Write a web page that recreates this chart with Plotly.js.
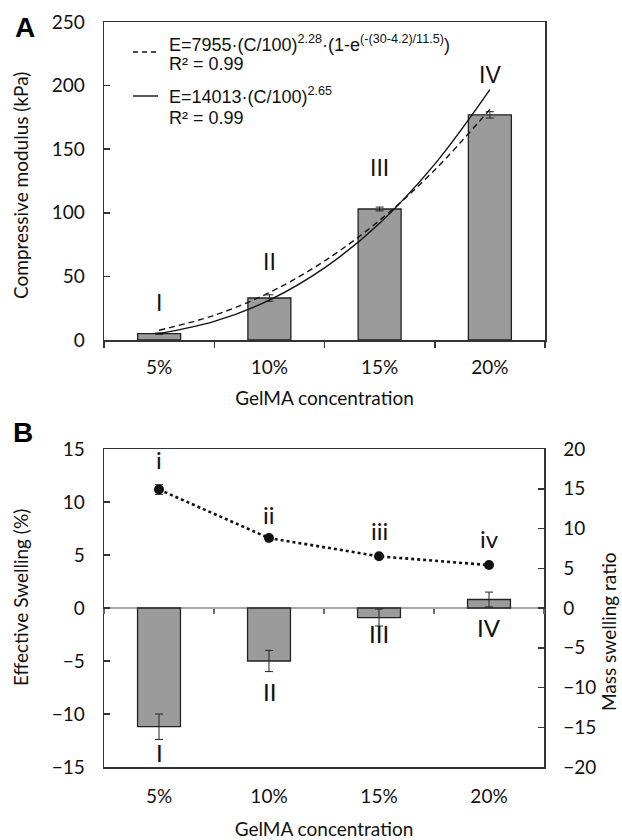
<!DOCTYPE html>
<html><head><meta charset="utf-8">
<script src="https://cdn.plot.ly/plotly-3.0.1.min.js"></script>
<style>html,body{margin:0;padding:0;background:#fff}#chart{width:622px;height:840px}</style>
</head><body><div id="chart"></div>
<script>
// ---- data ----
const categories = ['5%', '10%', '15%', '20%'];
const modulus = [5, 33, 103, 177];            // kPa
const modulusErr = [0.6, 2.5, 1.5, 2.5];
const fitC = [5, 7.5, 10, 12.5, 15, 17.5, 20]; // GelMA concentration (%)
const fitDashed = [7.7, 19.4, 37.3, 62.1, 94.1, 133.7, 181.3];
const fitSolid = [5.0, 14.6, 31.4, 56.7, 91.8, 138.3, 196.9];
const effSwelling = [-11.2, -5.0, -0.9, 0.8];  // %
const effSwellingErr = [1.2, 1.0, 0.8, 0.7];
const massRatio = [14.9, 8.8, 6.5, 5.4];
const massRatioErr = [0.6, 0.3, 0.3, 0.3];
const labelsUpperA = ['I', 'II', 'III', 'IV'];
const labelsLowerB = ['i', 'ii', 'iii', 'iv'];

// ---- layout helpers ----
const W = 622, H = 840;
const px = v => v / W;
const py = v => 1 - v / H;
const domA = {x: [px(104), px(545)], y: [py(340), py(22)]};
const domB = {x: [px(104), px(544)], y: [py(767), py(449)]};
const tickFont = {family: 'Lato, sans-serif', size: 19, color: '#111'};
const titleFont = {family: 'Lato, sans-serif', size: 19, color: '#111'};
const barColor = '#9b9b9b';
const lineCol = '#333';

const traces = [
  {type: 'bar', x: categories, y: modulus, xaxis: 'x', yaxis: 'y',
   marker: {color: barColor, line: {color: '#222', width: 1.3}},
   error_y: {type: 'data', array: modulusErr, color: '#222', thickness: 1, width: 4},
   showlegend: false, hoverinfo: 'skip'},
  {type: 'scatter', mode: 'lines', x: fitC, y: fitDashed, xaxis: 'x3', yaxis: 'y',
   line: {color: '#111', width: 1.4, dash: '6px,4px', shape: 'spline'}, showlegend: false},
  {type: 'scatter', mode: 'lines', x: fitC, y: fitSolid, xaxis: 'x3', yaxis: 'y',
   line: {color: '#111', width: 1.4, shape: 'spline'}, showlegend: false},
  {type: 'bar', x: categories, y: effSwelling, xaxis: 'x2', yaxis: 'y2',
   marker: {color: barColor, line: {color: '#222', width: 1.3}},
   error_y: {type: 'data', array: effSwellingErr, color: '#222', thickness: 1, width: 4},
   showlegend: false},
  {type: 'scatter', mode: 'lines+markers', x: categories, y: massRatio, xaxis: 'x4', yaxis: 'y4',
   line: {color: '#111', width: 2.6, dash: 'dot'},
   marker: {color: '#111', size: 10},
   error_y: {type: 'data', array: massRatioErr, color: '#222', thickness: 1, width: 4},
   showlegend: false}
];

const annotations = [];
function ann(o) { annotations.push(Object.assign({showarrow: false}, o)); }

// panel letters
ann({xref: 'paper', yref: 'paper', x: px(25), y: py(28), text: '<b>A</b>', xanchor: 'center', yanchor: 'middle',
     font: {family: 'Liberation Sans, Arial, sans-serif', size: 28, color: '#000'}});
ann({xref: 'paper', yref: 'paper', x: px(23), y: py(433), text: '<b>B</b>', xanchor: 'center', yanchor: 'middle',
     font: {family: 'Liberation Sans, Arial, sans-serif', size: 28, color: '#000'}});

// axis titles (rotated)
ann({xref: 'paper', yref: 'paper', x: px(20), y: py(186), text: 'Compressive modulus (kPa)', textangle: -90,
     xanchor: 'center', yanchor: 'middle', font: titleFont});
ann({xref: 'paper', yref: 'paper', x: px(20), y: py(598), text: 'Effective Swelling (%)', textangle: -90,
     xanchor: 'center', yanchor: 'middle', font: titleFont});
ann({xref: 'paper', yref: 'paper', x: px(608), y: py(632), text: 'Mass swelling ratio', textangle: -90,
     xanchor: 'center', yanchor: 'middle', borderpad: 0, font: titleFont});

// fit equations (legend)
const eqFont = {family: 'Liberation Sans, Arial, sans-serif', size: 18, color: '#111'};
const eqLines = [
  ['E=7955·(C/100)<sup>2.28</sup>·(1-e<sup>(-(30-4.2)/11.5)</sup>)', 43],
  ['R² = 0.99', 64],
  ['E=14013·(C/100)<sup>2.65</sup>', 95],
  ['R² = 0.99', 118]
];
eqLines.forEach(([t, yy]) => ann({xref: 'paper', yref: 'paper', x: px(167), y: py(yy), text: t,
  xanchor: 'left', yanchor: 'middle', font: eqFont}));

// group labels
const romanA = {family: 'Liberation Sans, Arial, sans-serif', size: 23, color: '#111'};
const posA = [29, 61, 135, 208];
labelsUpperA.forEach((t, i) => ann({xref: 'x', yref: 'y', x: categories[i], y: posA[i], text: t,
  xanchor: 'center', yanchor: 'middle', font: romanA}));
const romanB = {family: 'Lato, sans-serif', size: 24, color: '#111'};
const posBlow = [-13.6, -7.9, -2.4, -1.8];
labelsUpperA.forEach((t, i) => ann({xref: 'x2', yref: 'y2', x: categories[i], y: posBlow[i], text: t,
  xanchor: 'center', yanchor: 'middle', font: romanB}));
const posBup = [14.0, 8.8, 7.3, 6.6];
labelsLowerB.forEach((t, i) => ann({xref: 'x2', yref: 'y2', x: categories[i], y: posBup[i], text: t,
  xanchor: 'center', yanchor: 'middle', font: romanB}));

const shapes = [
  {type: 'line', xref: 'paper', yref: 'paper', x0: px(133), x1: px(158), y0: py(52), y1: py(52),
   line: {color: '#111', width: 1.4, dash: '5px,4px'}},
  {type: 'line', xref: 'paper', yref: 'paper', x0: px(133), x1: px(158), y0: py(96), y1: py(96),
   line: {color: '#111', width: 1.4}}
];

const frame = {showline: true, linecolor: lineCol, linewidth: 1.5, mirror: true, showgrid: false, zeroline: false};
const catRange = [-0.5, categories.length - 0.5];

const layout = {
  width: W, height: H, margin: {l: 0, r: 0, t: 0, b: 0},
  paper_bgcolor: '#fff', plot_bgcolor: '#fff', showlegend: false,
  bargap: 0.61,
  xaxis: Object.assign({}, frame, {domain: domA.x, anchor: 'y', type: 'category', categoryarray: categories,
    range: catRange,
    ticks: 'outside', tickson: 'boundaries', ticklen: 6, tickcolor: lineCol, tickwidth: 1.5,
    tickfont: tickFont, ticklabelstandoff: 10,
    title: {text: 'GelMA concentration', font: titleFont, standoff: 14}}),
  yaxis: Object.assign({}, frame, {domain: domA.y, anchor: 'x', range: [0, 250], dtick: 50,
    ticks: 'inside', ticklen: 6, tickcolor: lineCol, tickwidth: 1.5, tickfont: tickFont, ticklabelstandoff: 14}),
  xaxis3: {overlaying: 'x', anchor: 'y', range: [2.5, 22.5], visible: false},
  xaxis2: Object.assign({}, frame, {domain: domB.x, anchor: 'y2', type: 'category', categoryarray: categories,
    range: catRange,
    ticks: '', tickfont: tickFont, ticklabelstandoff: 12,
    title: {text: 'GelMA concentration', font: titleFont, standoff: 18}}),
  yaxis2: Object.assign({}, frame, {domain: domB.y, anchor: 'x2', range: [-15, 15], dtick: 5,
    ticks: 'inside', ticklen: 6, tickcolor: lineCol, tickwidth: 1.5, tickfont: tickFont, ticklabelstandoff: 14,
    mirror: false, zeroline: true, zerolinecolor: '#a8a8a8', zerolinewidth: 1.3}),
  xaxis4: {overlaying: 'x2', anchor: 'free', position: domB.y[0] + 0.5 * (domB.y[1] - domB.y[0]),
    type: 'category', categoryarray: categories, range: catRange,
    showline: false, showgrid: false, zeroline: false,
    ticks: 'outside', tickson: 'boundaries', ticklen: 5, tickcolor: '#666', tickwidth: 1.3,
    showticklabels: false},
  yaxis4: {overlaying: 'y2', anchor: 'x2', side: 'right', range: [-20, 20], dtick: 5,
    showline: true, linecolor: lineCol, linewidth: 1.5, showgrid: false, zeroline: false,
    ticks: 'inside', ticklen: 6, tickcolor: lineCol, tickwidth: 1.5, tickfont: tickFont, ticklabelstandoff: 14},
  annotations: annotations,
  shapes: shapes
};

Plotly.newPlot('chart', traces, layout, {staticPlot: true, displayModeBar: false});
</script>
</body></html>
